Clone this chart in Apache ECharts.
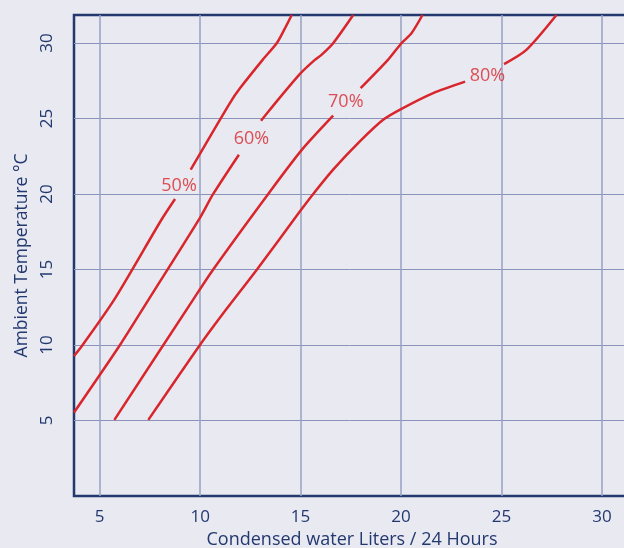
<!DOCTYPE html>
<html>
<head>
<meta charset="utf-8">
<script src="https://cdn.jsdelivr.net/npm/echarts@6/dist/echarts.min.js"></script>
<style>
html,body{margin:0;padding:0;background:#e8e9f1;}
#chart{width:624px;height:548px;}
</style>
</head>
<body>
<div id="chart"></div>
<script>
// Data (x: condensed water L/24h, y: ambient temperature °C); null = gap where the label sits
const rh50 = [[3.72,9.27],[4.15,10.0],[5.73,13.02],[8.08,18.31],[8.75,19.67],null,[9.53,21.61],[11.48,26.02],[11.99,27.01],[13.11,28.88],[13.81,29.98],[14.18,30.86],[14.56,31.85]];
const rh60 = [[3.72,5.53],[6.01,10.0],[7.44,13.02],[9.99,18.42],[10.65,20.0],[11.93,22.6],null,[13.03,24.85],[13.47,25.58],[14.97,27.95],[15.71,28.88],[16.04,29.21],[16.62,29.98],[17.62,31.85]];
const rh70 = [[5.73,5.04],[9.66,13.02],[10.65,15.0],[13.39,20.0],[15.05,22.9],[16.62,25.18],null,[17.99,27.01],[19.35,28.88],[20.02,29.98],[20.52,30.64],[21.07,31.85]];
const rh80 = [[7.42,5.04],[9.99,10.0],[11.3,12.36],[12.83,15.0],[14.97,18.85],[15.63,20.0],[16.62,21.61],[17.95,23.48],[19.11,24.91],[20.0,25.62],[21.6,26.68],[23.19,27.44],null,[25.13,28.6],[26.24,29.54],[27.74,31.85]];
const labelNames = ['50%','60%','70%','80%'];
const labelX = [8.95, 12.55, 17.25, 24.3];
const labelY = [20.55, 23.65, 26.1, 27.8];
const xTicks = [5,10,15,20,25,30];
const yTicks = [5,10,15,20,25,30];
const xName = 'Condensed water Liters / 24 Hours';
const yName = 'Ambient Temperature °C';

const RED = '#d9262c';
const NAVY = '#22386f';
const FONT = 'Open Sans';

const chart = echarts.init(document.getElementById('chart'), null, {renderer:'canvas'});
const lineSeries = [rh50, rh60, rh70, rh80].map(d => ({
  type:'line', data:d, showSymbol:false, smooth:0.25, connectNulls:false,
  lineStyle:{color:RED, width:2.5}, itemStyle:{color:RED}, silent:true, animation:false
}));
const labelData = labelNames.map((n,i)=>({name:n, value:[labelX[i], labelY[i]]}));

chart.setOption({
  backgroundColor:'#e8e9f1',
  animation:false,
  grid:{left:74, right:-6, top:15, bottom:52, show:true, borderColor:NAVY, borderWidth:2.5, backgroundColor:'transparent', containLabel:false, outerBoundsMode:'none'},
  xAxis:{
    type:'value', min:3.72, max:31.4,
    name:xName, nameLocation:'middle', nameGap:33,
    nameTextStyle:{color:NAVY, fontFamily:FONT, fontSize:18},
    axisLine:{show:false}, axisTick:{show:false, customValues:xTicks},
    axisLabel:{customValues:xTicks, color:NAVY, fontFamily:FONT, fontSize:17, margin:13},
    splitLine:{show:true, lineStyle:{color:'#97a0c3', width:1.5}}
  },
  yAxis:{
    type:'value', min:0, max:31.85,
    name:yName, nameLocation:'middle', nameGap:43, nameRotate:90,
    nameTextStyle:{color:NAVY, fontFamily:FONT, fontSize:17.5},
    axisLine:{show:false}, axisTick:{show:false, customValues:yTicks},
    axisLabel:{customValues:yTicks, color:NAVY, fontFamily:FONT, fontSize:17, rotate:90, margin:18},
    splitLine:{show:true, lineStyle:{color:'#8a93ba', width:1}}
  },
  series: lineSeries.concat([{
    type:'scatter', data:labelData, symbolSize:0, silent:true,
    label:{show:true, position:'inside', formatter:p=>p.name, color:RED, fontFamily:FONT, fontSize:18}
  }])
});
</script>
</body>
</html>
